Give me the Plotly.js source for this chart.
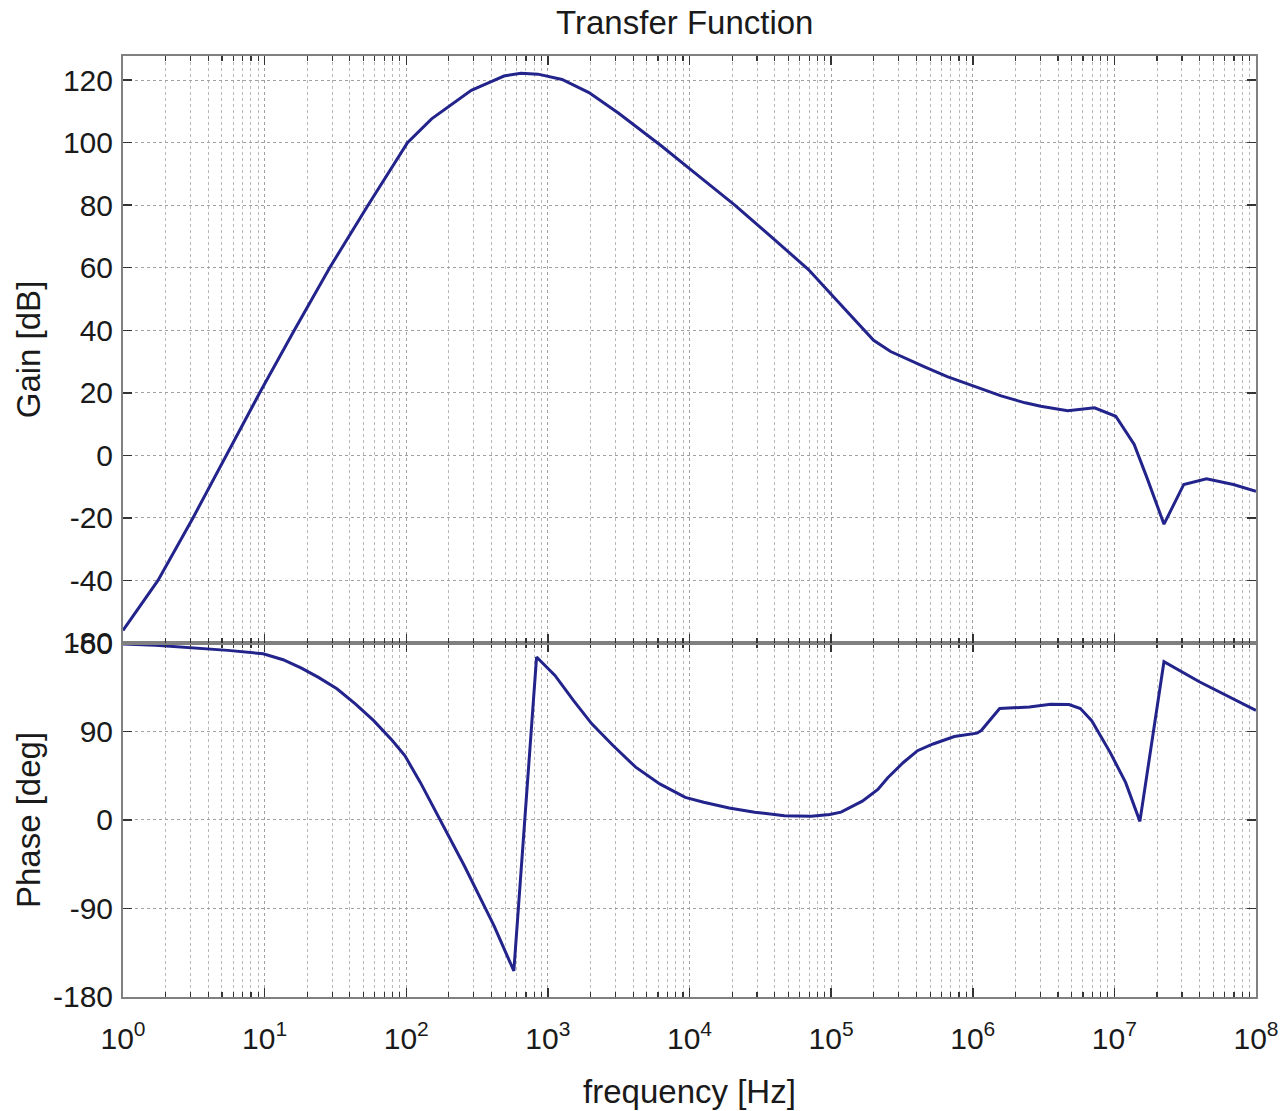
<!DOCTYPE html>
<html>
<head>
<meta charset="utf-8">
<script src="https://cdn.plot.ly/plotly-3.0.1.min.js"></script>
<style>html,body{margin:0;padding:0;background:#fff;}#chart{width:1280px;height:1111px;}</style>
</head>
<body>
<div id="chart"></div>
<script>
// ---- data ----
var gainFreq = [1, 1.766, 3.119, 5.37, 9.23, 16.2, 28.8, 53.7, 102, 151, 219, 288, 380, 490, 646, 851, 1259, 1950, 3162, 4571, 6310, 1e4, 20890, 39810, 69180, 1e5, 154900, 199500, 263000, 346700, 457100, 660700, 1e6, 1.585e6, 2.344e6, 3.02e6, 4.68e6, 7.24e6, 1.023e7, 1.38e7, 1.70e7, 2.24e7, 3.09e7, 4.47e7, 6.92e7, 1e8];
var gainDb = [-56, -40, -20, 0, 20, 40, 60, 80, 100, 107.6, 113, 116.7, 119.1, 121.3, 122.2, 121.9, 120.2, 116, 109.4, 103.9, 99, 91.7, 80, 69, 59.4, 51.5, 42.3, 36.8, 33.2, 30.7, 28.3, 25.2, 22.2, 19, 16.8, 15.7, 14.3, 15.2, 12.5, 3.5, -7.2, -22, -9.3, -7.5, -9.3, -11.5];

var phaseFreq = [1, 1.7, 5.5, 9.77, 13.5, 18.2, 24, 32.4, 43.7, 58.9, 79.4, 97.7, 126, 158.5, 257, 417, 575, 832, 1122, 1514, 2042, 2884, 4169, 6166, 9333, 12590, 19050, 28840, 46770, 72440, 97700, 117500, 166000, 213800, 251200, 323600, 407400, 524800, 741300, 1.072e6, 1.148e6, 1.549e6, 2.512e6, 3.548e6, 4.786e6, 5.754e6, 6.918e6, 9.333e6, 1.202e7, 1.514e7, 2.239e7, 3.981e7, 6.457e7, 1e8];
var phaseDeg = [179, 177.6, 172.5, 169, 163, 154.5, 145, 133.5, 118, 101, 81, 65.5, 38, 11, -46.5, -107.7, -153.5, 165.7, 147, 121.6, 97.8, 75.7, 53.7, 36.7, 23, 18, 12.3, 7.9, 4.4, 3.8, 5.5, 8, 19.2, 31, 43, 58.5, 70.5, 77.3, 84.9, 88.3, 91, 113.3, 115, 117.7, 117.4, 113.3, 101, 68.8, 38, -1.4, 161, 140.6, 125, 111.5];

var freqTicks = [1, 10, 100, 1e3, 1e4, 1e5, 1e6, 1e7, 1e8];
var freqTickText = ['10<sup>0</sup>', '10<sup>1</sup>', '10<sup>2</sup>', '10<sup>3</sup>', '10<sup>4</sup>', '10<sup>5</sup>', '10<sup>6</sup>', '10<sup>7</sup>', '10<sup>8</sup>'];
var gainTicks = [-60, -40, -20, 0, 20, 40, 60, 80, 100, 120];
var gainTickText = ['-60', '-40', '-20', '0', '20', '40', '60', '80', '100', '120'];
var phaseTicks = [-180, -90, 0, 90, 180];
var phaseTickText = ['-180', '-90', '0', '90', '180'];

var lineColor = '#23238c';
var fontFam = '"Liberation Sans", Arial, Helvetica, sans-serif';
var tickFont = {family: fontFam, size: 30, color: '#1a1a1a'};
var labelFont = {family: fontFam, size: 33, color: '#1a1a1a'};
var gridCol = '#a0a0a0';

var traces = [
  {x: gainFreq, y: gainDb, xaxis: 'x2', yaxis: 'y2', type: 'scatter', mode: 'lines',
   line: {color: lineColor, width: 3}, hoverinfo: 'x+y'},
  {x: phaseFreq, y: phaseDeg, xaxis: 'x', yaxis: 'y', type: 'scatter', mode: 'lines',
   line: {color: lineColor, width: 3}, hoverinfo: 'x+y'}
];

function xAxisBase() {
  return {
    type: 'log', range: [0, 8], tickmode: 'array', tickvals: freqTicks, ticktext: freqTickText,
    ticks: 'inside', ticklen: 9, tickwidth: 1.5, tickcolor: '#333',
    showline: true, linecolor: '#808080', linewidth: 2, mirror: 'allticks',
    showgrid: true, gridcolor: gridCol, griddash: 'dot', gridwidth: 1,
    minor: {ticks: 'inside', ticklen: 5, tickwidth: 1.2, tickcolor: '#333', dtick: 'D1',
            showgrid: true, gridcolor: '#b8b8b8', griddash: 'dot', gridwidth: 1},
    tickfont: tickFont, zeroline: false
  };
}

function yAxisBase(dom, rng, vals, text, title, standoff) {
  return {
    domain: dom, range: rng, tickmode: 'array', tickvals: vals, ticktext: text,
    ticks: 'inside', ticklen: 9, tickwidth: 1.5, tickcolor: '#333',
    showline: true, linecolor: '#808080', linewidth: 2, mirror: 'allticks',
    showgrid: true, gridcolor: gridCol, griddash: 'dot', gridwidth: 1,
    zeroline: false, tickfont: tickFont, ticklabelstandoff: 2,
    title: {text: title, font: labelFont, standoff: standoff}
  };
}

var xa = xAxisBase();
xa.anchor = 'y';
xa.ticklabelstandoff = 14;
xa.title = {text: 'frequency [Hz]', font: labelFont, standoff: 26};

var xa2 = xAxisBase();
xa2.anchor = 'y2';
xa2.matches = 'x';
xa2.showticklabels = false;

var layout = {
  width: 1280, height: 1111,
  margin: {l: 123, r: 24, t: 56, b: 114},
  paper_bgcolor: '#ffffff', plot_bgcolor: '#ffffff',
  showlegend: false,
  title: {text: 'Transfer Function', x: 0.535, xanchor: 'center', y: 0.98, yanchor: 'middle',
          font: labelFont},
  xaxis: xa,
  xaxis2: xa2,
  yaxis: yAxisBase([0, 0.3762], [-180, 180], phaseTicks, phaseTickText, 'Phase [deg]', 2),
  yaxis2: yAxisBase([0.3762, 1], [-60, 127.7], gainTicks, gainTickText, 'Gain [dB]', 12)
};

Plotly.newPlot('chart', traces, layout, {displayModeBar: false, staticPlot: true});
</script>
</body>
</html>
